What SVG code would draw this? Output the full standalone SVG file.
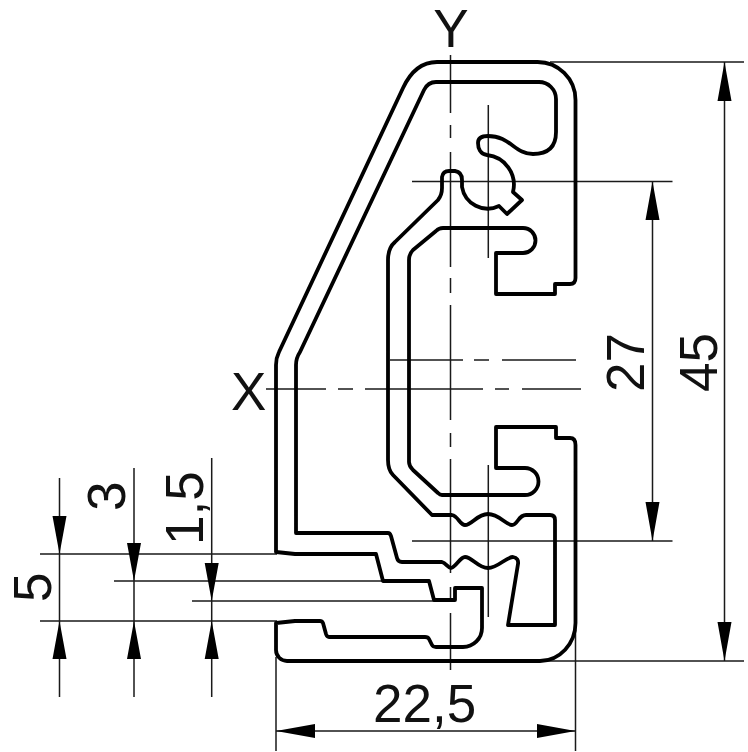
<svg xmlns="http://www.w3.org/2000/svg" width="748" height="752" viewBox="0 0 748 752">
<style>
.p{fill:none;stroke:#000;stroke-width:3.8;stroke-linejoin:round}
.t{fill:none;stroke:#1a1a1a;stroke-width:1.5}
.a{fill:#000}
text{font-family:"Liberation Sans",Arial,sans-serif;font-size:53px;fill:#111}
</style>
<rect width="748" height="752" fill="#fff"/>
<g id="connectors">
<path class="t" d="M450.5 55V113M450.5 125V138M450.5 152V267M450.5 278V293M450.5 305V420M450.5 433V447M450.5 459V573M450.5 587V602M450.5 613V670"/>
<path class="t" d="M488.3 105V258M488.3 465V617"/>
<path class="t" d="M266 389H326M338 389H353M365 389H483M495 389H509M522 389H581M390 360H463M474 360H489M502 360H576"/>
<path class="t" d="M412 181.5H672.5M412 541H672.5M550 62H744M545 661H744"/>
<path class="t" d="M724.5 62V661M652.5 181.5V541M276 731H575.5M276 657V751M575.5 630V751"/>
<path class="t" d="M40 554H277M114 581H383M192 601H434M40 621H277M59.5 478V697M134 468V697M211.7 458V697"/>
<path class="a" d="M724.5 62l-7 39h14zM724.5 661l-7-39h14zM652.5 181.5l-7 38.500h14zM652.5 541l-7-39h14zM276 731l39-7v14zM575.500 731l-38.500-7v14zM59.500 554l-7-38h14zM59.500 621l-7 38h14zM134 581l-7-38h14zM134 621l-7 38h14zM211.700 601l-7-38h14zM211.700 621l-7 38h14z"/>
</g>
<g id="profile-outer"><path class="p" d="M276 552L295 554H376L383 581H429L434 600H455V588H482V628A19 19 0 0 1 463 647H436Q433 647 432 645L429 639Q428 637 425 637H329Q327 637 326 634L323 623Q322 621 320 621H295L276 623V650A11 11 0 0 0 287 661H540A36 38 0 0 0 575.500 623V445Q575.500 438 570 438H556V427H496V468H525A13.500 13.500 0 0 1 525 495H442Q440 495 438 493L413 470Q409 466 409 462V260Q409 254 413 250L436 231Q439 228 443 228H523A12.500 12.500 0 0 1 523 253H496V294H555V284H570Q575.500 284 575.500 278V100A38 38 0 0 0 537 62H437C421 62 410 73 403 88L279 352Q276 358 276 365Z"/></g>
<g id="profile-inner"><path class="p" d="M296 533H388Q390 533 391 536L397 558Q398 562 402 562H442C446 563 448 568 451 568C456 567 460 557 465 557C472 557 478 568 488 568C498 568 506 557 513 557Q519 558 518 564L508 625H555V520Q555 515 550 515H526C518 515 518 525 512 525C506 525 499 514 488 514C477 514 472 525 465 525C460 525 458 516 452 515H432L393 475Q388 470 388 460V260Q388 248 395 242L438 200Q442 195 442 188V177Q443 171 449 171H455Q462 172 462 180V187A26 26 0 0 0 499 206L507 214L522 200L513 192A30 30 0 0 0 487 155C480 154 478 148 478 143Q478 136 488 136C510 136 515 154 533 154C547 154 556 148 556 132V99A17 17 0 0 0 539 82H436Q428 82 424 90L300 352Q296 358 296 365Z"/></g>
<g id="labels">
<text x="451" y="47" text-anchor="middle">Y</text>
<text x="231" y="410">X</text>
<text x="373" y="722">22,5</text>
<text transform="translate(717 392) rotate(-90)">45</text>
<text transform="translate(644 392) rotate(-90)">27</text>
<text transform="translate(51 602) rotate(-90)">5</text>
<text transform="translate(125 511) rotate(-90)">3</text>
<text transform="translate(203 545) rotate(-90)">1,5</text>
</g>
</svg>
